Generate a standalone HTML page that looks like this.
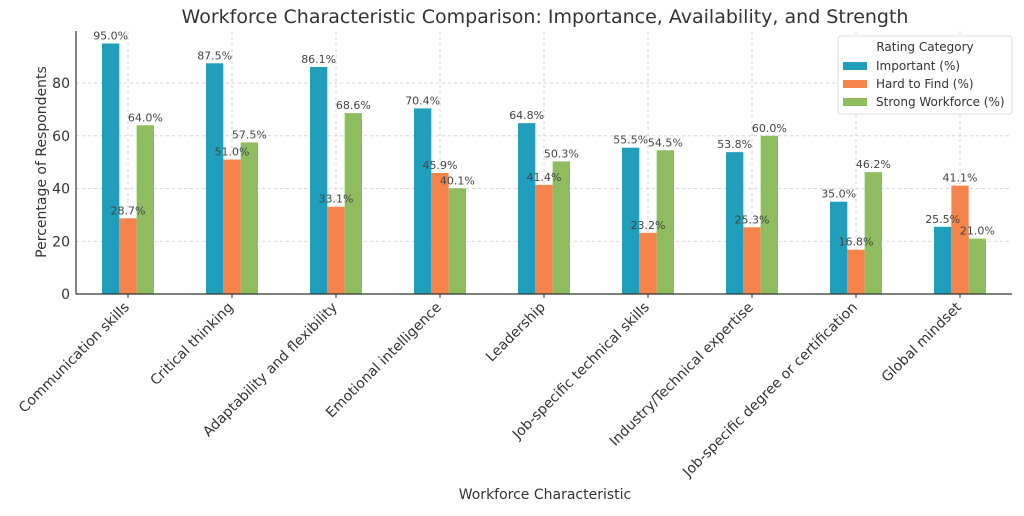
<!DOCTYPE html>
<html><head><meta charset="utf-8"><style>
body{margin:0;background:#fff}
svg{font-family:"DejaVu Sans","Liberation Sans",sans-serif}
</style></head><body>
<svg id="chart" width="1024" height="511" viewBox="0 0 1024 511"></svg>
<script>
const categories=["Communication skills","Critical thinking","Adaptability and flexibility","Emotional intelligence","Leadership","Job-specific technical skills","Industry/Technical expertise","Job-specific degree or certification","Global mindset"];
const important=[95.0,87.5,86.1,70.4,64.8,55.5,53.8,35.0,25.5];
const hardToFind=[28.7,51.0,33.1,45.9,41.4,23.2,25.3,16.8,41.1];
const strong=[64.0,57.5,68.6,40.1,50.3,54.5,60.0,46.2,21.0];
const seriesNames=["Important (%)","Hard to Find (%)","Strong Workforce (%)"];
const yTicks=[0,20,40,60,80];

const NS="http://www.w3.org/2000/svg";
const svg=document.getElementById('chart');
const L=76,R=1012,T=31,B=294,yMax=99.75;
const unit=(R-L)/categories.length;
const x=i=>L+unit*(i+0.5);
const y=v=>B-(v/yMax)*(B-T);
const colors=["#219ebc","#f4844c","#8fbc5f"];
const bw=unit/6;
function el(tag,attrs,txt){const e=document.createElementNS(NS,tag);for(const k in attrs)e.setAttribute(k,attrs[k]);if(txt!=null)e.textContent=txt;svg.appendChild(e);return e;}

let t=el('text',{x:545,y:23,'text-anchor':'middle','font-size':19,fill:'#333'},'Workforce Characteristic Comparison: Importance, Availability, and Strength');



yTicks.forEach(v=>{
 const g=el('line',{x1:L,x2:R,y1:y(v),y2:y(v),stroke:'#ccc','stroke-dasharray':'3,3','stroke-width':0.8});
 
 
 const tl=el('text',{x:L-6,y:y(v)+5,'text-anchor':'end','font-size':14,fill:'#333'},v);
 
 
});
categories.forEach((c,i)=>{
 const g=el('line',{x1:x(i),x2:x(i),y1:T,y2:B,stroke:'#ccc','stroke-dasharray':'3,3','stroke-width':0.8});
 
 
});
const series=[important,hardToFind,strong];
series.forEach((s,si)=>{
 s.forEach((v,i)=>{
  const bx=x(i)+(si-1.5)*bw;
  const r=el('rect',{x:bx,y:y(v),width:bw,height:B-y(v),fill:colors[si]});
  
  
 });
});
series.forEach((s,si)=>{
 s.forEach((v,i)=>{
  const bx=x(i)+(si-1.5)*bw;
  const lb=el('text',{x:bx+bw/2,y:y(v)-4,'text-anchor':'middle','font-size':11,fill:'#444'},v.toFixed(1)+'%');
  
  
 });
});
categories.forEach((c,i)=>{
 const tk=el('line',{x1:x(i),x2:x(i),y1:B,y2:B+4,stroke:'#333'});
 
 
 const tx=x(i)+2,ty=B+14;
 const tl=el('text',{x:tx,y:ty,'text-anchor':'end','font-size':14,fill:'#333',transform:`rotate(-45 ${tx} ${ty})`},c);
 
 
});
let a=el('line',{x1:L,x2:L,y1:T,y2:B,stroke:'#333','stroke-width':1.2});


a=el('line',{x1:L,x2:R,y1:B,y2:B,stroke:'#333','stroke-width':1.2});


t=el('text',{x:545,y:499,'text-anchor':'middle','font-size':14,fill:'#333'},'Workforce Characteristic');


t=el('text',{x:46,y:162,'text-anchor':'middle','font-size':14,fill:'#333',transform:'rotate(-90 46 162)'},'Percentage of Respondents');


const lg=el('rect',{x:838,y:36,width:174,height:78,fill:'#fff',stroke:'#ddd',rx:3});


t=el('text',{x:925,y:51,'text-anchor':'middle','font-size':12,fill:'#333'},'Rating Category');


seriesNames.forEach((n,si)=>{
 const yy=67+si*18;
 const sw=el('rect',{x:843,y:yy-5,width:24,height:8,fill:colors[si]});
 
 
 const lt=el('text',{x:876,y:yy+3,'font-size':12,fill:'#333'},n);
 
 
});
</script>
</body></html>
